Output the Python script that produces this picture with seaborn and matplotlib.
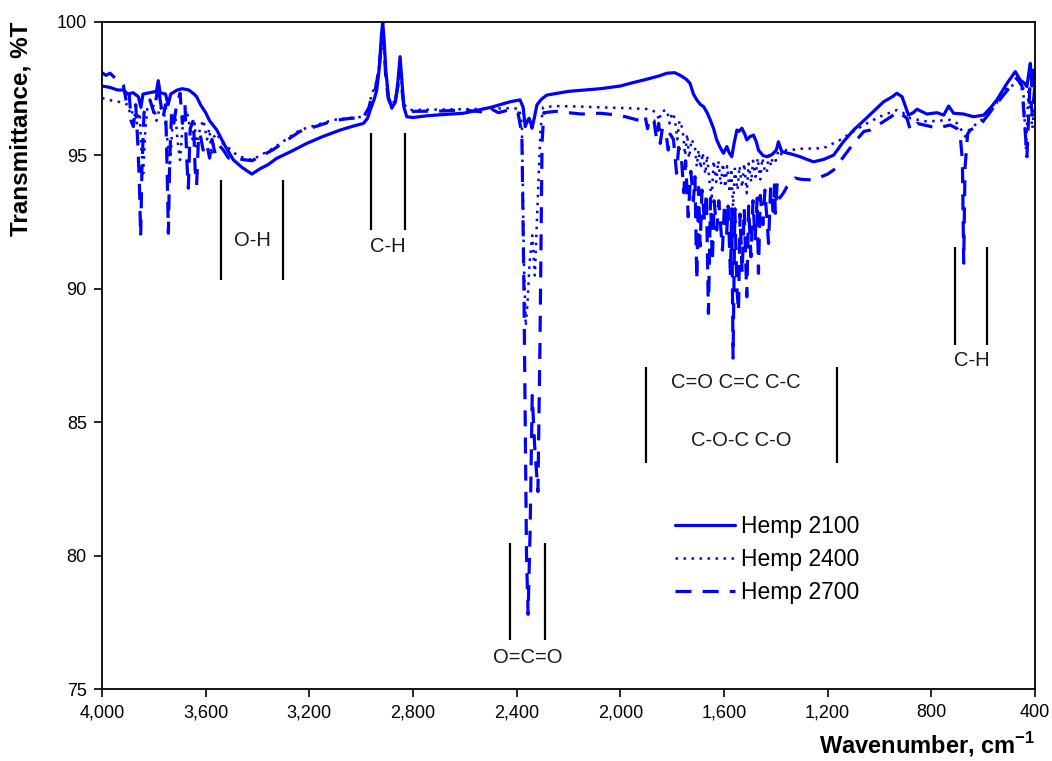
import numpy as np
import pandas as pd
import seaborn as sns
import matplotlib.pyplot as plt

# wavenumber (cm-1) / transmittance (%T)
wn_2100 = [4000, 3970, 3940, 3918, 3900, 3880, 3860, 3850, 3842, 3815, 3790, 3783, 3776, 3755,
           3745, 3735, 3710, 3690, 3665, 3645, 3635, 3620, 3600, 3585, 3557, 3525, 3493, 3460,
           3422, 3390, 3360, 3326, 3270, 3210, 3150, 3081, 3030, 2991, 2975, 2965, 2950, 2940,
           2930, 2922, 2917, 2912, 2905, 2895, 2882, 2868, 2858, 2850, 2843, 2835, 2824, 2800,
           2750, 2700, 2605, 2500, 2425, 2387, 2375, 2367, 2358, 2352, 2345, 2341, 2332, 2322,
           2305, 2284, 2200, 2077, 2000, 1962, 1900, 1850, 1820, 1790, 1769, 1745, 1731, 1718,
           1705, 1690, 1679, 1665, 1653, 1640, 1628, 1615, 1602, 1589, 1580, 1570, 1560, 1550,
           1542, 1531, 1520, 1512, 1500, 1486, 1475, 1467, 1450, 1435, 1420, 1409, 1398, 1390,
           1377, 1340, 1306, 1280, 1254, 1215, 1177, 1140, 1100, 1050, 984, 950, 933, 913, 888,
           870, 855, 817, 778, 752, 733, 714, 675, 637, 598, 570, 547, 508, 476, 457, 440, 431,
           425, 418, 412, 405, 400]
t_2100 = [97.6, 97.55, 97.45, 97.45, 97.3, 97.35, 97.2, 96.8, 97.3, 97.35, 97.4, 97.8, 97.35, 97.3,
          96.9, 97.3, 97.45, 97.5, 97.45, 97.3, 97.2, 96.9, 96.6, 96.3, 95.95, 95.35, 94.83, 94.55,
          94.3, 94.5, 94.65, 94.89, 95.15, 95.45, 95.7, 95.95, 96.1, 96.2, 96.4, 96.7, 97.1, 97.45,
          98.3, 99.5, 100.0, 99.4, 98.2, 97.2, 96.77, 97.0, 97.8, 98.7, 97.8, 96.8, 96.45, 96.42,
          96.48, 96.52, 96.58, 96.8, 97.01, 97.08, 96.8, 96.08, 96.3, 96.39, 96.2, 96.02, 96.4, 96.89,
          97.1, 97.26, 97.4, 97.5, 97.6, 97.7, 97.85, 97.98, 98.08, 98.1, 98.0, 97.85, 97.7, 97.3,
          97.08, 96.9, 96.83, 96.6, 96.33, 96.0, 95.58, 95.3, 95.08, 95.33, 95.1, 94.95, 95.5, 95.95,
          95.9, 96.02, 95.8, 95.58, 95.7, 95.76, 95.5, 95.2, 95.0, 94.95, 95.0, 95.08, 95.2, 95.51,
          95.14, 95.05, 94.95, 94.85, 94.76, 94.85, 95.01, 95.5, 95.95, 96.4, 97.01, 97.2, 97.33, 97.2, 96.51,
          96.6, 96.73, 96.55, 96.6, 96.51, 96.85, 96.58, 96.55, 96.45, 96.51, 96.8, 97.08, 97.7, 98.14, 97.83, 97.7, 97.58,
          98.0, 98.45, 97.6, 98.2, 97.6]

wn_2400 = [4000, 3960, 3931, 3900, 3890, 3879, 3865, 3855, 3848, 3841, 3834, 3825, 3800, 3790,
           3776, 3760, 3750, 3738, 3728, 3718, 3708, 3699, 3690, 3673, 3660, 3650, 3643, 3635,
           3622, 3609, 3595, 3586, 3577, 3568, 3557, 3540, 3519, 3500, 3480, 3450, 3422, 3390,
           3339, 3290, 3236, 3170, 3107, 3050, 2991, 2970, 2960, 2945, 2930, 2922, 2917, 2912,
           2905, 2895, 2882, 2868, 2858, 2850, 2843, 2835, 2811, 2700, 2605, 2500, 2425, 2390,
           2380, 2372, 2365, 2358, 2350, 2340, 2330, 2320, 2308, 2298, 2250, 2150, 2077, 2000,
           1923, 1905, 1880, 1860, 1850, 1842, 1820, 1810, 1800, 1790, 1780, 1772, 1760, 1750,
           1742, 1735, 1725, 1712, 1705, 1698, 1690, 1682, 1672, 1665, 1655, 1647, 1640, 1630,
           1622, 1612, 1604, 1595, 1588, 1578, 1572, 1565, 1558, 1548, 1540, 1530, 1522, 1512,
           1505, 1495, 1488, 1478, 1470, 1460, 1452, 1444, 1435, 1428, 1418, 1410, 1400, 1390,
           1375, 1360, 1344, 1300, 1216, 1152, 1100, 1060, 1000, 933, 910, 881, 817, 727, 700,
           688, 675, 668, 660, 624, 573, 508, 446, 435, 425, 410, 400]
t_2400 = [97.15, 97.05, 97.0, 96.9, 96.5, 96.7, 96.2, 96.6, 95.2, 94.33, 95.8, 96.8, 96.85, 96.3,
          96.83, 96.5, 95.8, 94.58, 96.2, 96.58, 95.5, 94.83, 96.0, 96.7, 96.0, 95.6, 96.2, 95.33,
          96.0, 96.33, 95.6, 96.0, 95.01, 95.7, 95.83, 95.5, 95.33, 95.2, 95.01, 94.9, 94.83, 95.0,
          95.27, 95.6, 95.95, 96.15, 96.33, 96.4, 96.45, 96.8, 97.3, 97.6, 98.4, 99.3, 99.6, 99.2,
          98.0, 97.2, 96.89, 97.1, 97.7, 98.4, 97.6, 96.9, 96.7, 96.72, 96.73, 96.75, 96.77, 96.75,
          96.2, 91.0, 88.6, 89.5, 91.0, 92.0, 90.5, 93.0, 96.0, 96.8, 96.85, 96.83, 96.8, 96.78,
          96.75, 96.75, 96.7, 96.6, 96.3, 96.65, 96.7, 96.2, 96.6, 96.4, 95.6, 96.3, 96.0, 95.0,
          95.8, 94.9, 95.6, 95.3, 94.58, 95.2, 94.5, 95.1, 94.3, 95.0, 93.9, 93.45, 94.8, 94.0,
          94.8, 93.9, 94.7, 93.8, 94.6, 93.6, 94.5, 93.08, 94.5, 93.7, 94.6, 93.8, 94.7, 93.58,
          94.7, 94.0, 94.8, 94.2, 94.9, 94.1, 94.9, 94.5, 94.33, 95.0, 94.6, 95.1, 94.8, 95.2,
          95.0, 95.2, 95.2, 95.25, 95.27, 95.58, 95.9, 96.14, 96.45, 96.7, 96.6, 96.39, 96.27, 96.33, 96.2,
          96.02, 95.8, 95.7, 95.9, 96.2, 96.58, 97.58, 97.7, 95.2, 97.4, 96.0, 97.3]

wn_2700 = [4000, 3985, 3969, 3950, 3930, 3918, 3905, 3895, 3888, 3879, 3870, 3862, 3856, 3851,
           3846, 3838, 3825, 3815, 3800, 3790, 3783, 3776, 3765, 3755, 3749, 3744, 3739, 3732,
           3725, 3712, 3699, 3690, 3680, 3673, 3667, 3660, 3647, 3641, 3635, 3628, 3622, 3610,
           3596, 3585, 3576, 3564, 3550, 3532, 3512, 3493, 3460, 3422, 3390, 3339, 3290, 3236,
           3170, 3107, 3050, 2991, 2970, 2960, 2945, 2930, 2922, 2917, 2912, 2905, 2895, 2882,
           2868, 2858, 2850, 2843, 2835, 2811, 2700, 2605, 2520, 2500, 2470, 2425, 2395, 2380,
           2372, 2362, 2356, 2348, 2340, 2330, 2318, 2310, 2302, 2295, 2250, 2150, 2077, 2000,
           1923, 1905, 1895, 1888, 1870, 1860, 1852, 1846, 1838, 1825, 1815, 1808, 1795, 1783,
           1775, 1765, 1755, 1748, 1738, 1728, 1718, 1712, 1705, 1698, 1692, 1685, 1675, 1668,
           1660, 1652, 1645, 1638, 1628, 1620, 1606, 1598, 1590, 1584, 1575, 1570, 1565, 1558,
           1550, 1544, 1538, 1530, 1522, 1512, 1505, 1496, 1488, 1480, 1472, 1467, 1460, 1450,
           1442, 1428, 1420, 1410, 1405, 1402, 1395, 1385, 1370, 1357, 1326, 1300, 1254, 1200,
           1177, 1150, 1100, 1060, 1035, 984, 926, 894, 881, 855, 810, 778, 727, 700, 688, 680,
           675, 670, 660, 650, 611, 547, 495, 470, 450, 431, 420, 410, 400]
t_2700 = [98.1, 98.0, 98.08, 97.9, 97.8, 97.64, 96.95, 97.3, 96.3, 96.08, 96.9, 95.45, 94.0, 91.95,
          94.5, 96.6, 96.9, 97.08, 96.6, 97.2, 97.7, 97.1, 96.4, 96.9, 94.5, 92.08, 94.8, 96.5,
          96.08, 96.9, 97.33, 96.2, 96.9, 94.83, 93.77, 96.0, 96.33, 94.5, 93.89, 95.6, 95.83, 95.2,
          95.45, 94.9, 95.6, 95.08, 95.4, 95.2, 94.9, 94.95, 94.85, 94.8, 94.95, 95.22, 95.55, 95.9,
          96.1, 96.3, 96.38, 96.42, 96.8, 97.2, 97.5, 98.3, 99.2, 99.5, 99.1, 97.9, 97.1, 96.85,
          97.05, 97.6, 98.3, 97.5, 96.8, 96.65, 96.66, 96.7, 96.62, 96.75, 96.6, 96.72, 96.6, 95.8,
          90.0, 80.0, 77.8, 81.0, 86.0, 84.0, 82.4, 88.0, 95.5, 96.6, 96.65, 96.55, 96.58, 96.5,
          96.3, 96.5, 96.0, 96.4, 96.3, 95.6, 96.2, 95.45, 96.0, 95.9, 95.2, 95.8, 95.6, 94.33,
          95.3, 95.0, 93.6, 94.8, 92.7, 94.4, 93.3, 94.2, 90.33, 93.8, 91.6, 93.7, 92.5, 93.6,
          89.08, 93.4, 91.0, 93.3, 92.2, 93.3, 91.45, 93.2, 92.0, 93.1, 90.5, 93.0, 87.4, 93.0,
          90.0, 89.14, 92.8, 90.6, 93.0, 89.7, 93.1, 91.2, 93.3, 91.8, 93.4, 90.58, 93.5, 92.4,
          93.7, 91.7, 93.8, 92.9, 93.9, 92.83, 93.9, 93.4, 93.6, 93.83, 94.15, 94.1, 94.08, 94.3,
          94.45, 94.8, 95.45, 95.9, 95.95, 96.27, 96.64, 96.39, 95.95, 96.2, 96.1, 96.02, 96.14, 96.0, 95.7, 94.8,
          90.96, 94.5, 95.8, 95.95, 96.14, 96.95, 97.58, 97.9, 97.6, 94.95, 97.5, 96.5, 97.7]

series_names = ['Hemp 2100', 'Hemp 2400', 'Hemp 2700']

# band assignments: (label, left wn, right wn, bottom %T, top %T, label wn, label %T, valign)
bands = [('O-H', 3541, 3301, 90.33, 94.08, 3421, 91.8, 'center'),
         ('C-H', 2962, 2831, 92.2, 95.84, 2896, 91.95, 'top'),
         ('O=C=O', 2425, 2290, 76.84, 80.47, 2357, 76.55, 'top'),
         ('', 1901, 1163, 83.47, 87.07, 0, 0, ''),
         ('C-H', 707, 584, 87.9, 91.57, 645, 87.65, 'top')]
extra_labels = [('C=O C=C C-C', 1555, 86.47), ('C-O-C C-O', 1532, 84.33)]

sns.set_theme(style='ticks')
plt.rcParams['font.family'] = ['Liberation Sans', 'DejaVu Sans']
plt.rcParams['mathtext.fontset'] = 'custom'
plt.rcParams['mathtext.rm'] = 'Liberation Sans'
plt.rcParams['mathtext.bf'] = 'Liberation Sans:bold'
plt.rcParams['text.color'] = 'black'
plt.rcParams['axes.labelcolor'] = 'black'

fig = plt.figure(figsize=(10.52, 7.61), dpi=100)
ax = fig.add_axes([0.097, 0.0946, 0.8868, 0.8765])

blue = '#0000ff'
df1 = pd.DataFrame({'wn': wn_2100, 't': t_2100})
df2 = pd.DataFrame({'wn': wn_2400, 't': t_2400})
df3 = pd.DataFrame({'wn': wn_2700, 't': t_2700})
sns.lineplot(data=df1, x='wn', y='t', ax=ax, color=blue, lw=2.3, sort=False,
             estimator=None, label=series_names[0])
sns.lineplot(data=df2, x='wn', y='t', ax=ax, color=blue, lw=1.8, sort=False,
             estimator=None, label=series_names[1], linestyle=(0, (1, 2.2)))
sns.lineplot(data=df3, x='wn', y='t', ax=ax, color=blue, lw=2.3, sort=False,
             estimator=None, label=series_names[2], linestyle=(0, (5, 3.5)))

txt_color = '#1a1a1a'
for name, x0, x1, y0, y1, tx, ty, va in bands:
    ax.vlines([x0, x1], y0, y1, color='black', lw=1.6)
    if name:
        ax.text(tx, ty, name, ha='center', va=va, fontsize=14.5, color=txt_color)
for name, tx, ty in extra_labels:
    ax.text(tx, ty, name, ha='center', va='center', fontsize=14.5, color=txt_color)

ax.set_xlim(4000, 400)
ax.set_ylim(75, 100)
xt = np.arange(4000, 399, -400)
ax.set_xticks(xt)
ax.set_xticklabels([f'{v:,}' for v in xt])
ax.set_yticks(np.arange(75, 101, 5))
ax.tick_params(direction='out', length=6, width=1.2, colors='black')
ax.tick_params(axis='x', pad=5, labelsize=13)
ax.tick_params(axis='y', pad=5, labelsize=13)
for s in ax.spines.values():
    s.set_linewidth(1.3)
    s.set_color('black')

ax.set_ylabel('Transmittance, %T', fontsize=17.5, fontweight='bold', loc='top')
ax.yaxis.set_label_coords(-0.075, 1.0)
ax.set_xlabel(r'Wavenumber, cm$^{\mathbf{-1}}$', fontsize=17, fontweight='bold', loc='right',
              labelpad=6)

ax.legend(loc='upper left', bbox_to_anchor=(0.592, 0.292), frameon=False, fontsize=16.5,
          handlelength=2.6, handletextpad=0.3, labelspacing=0.45)

fig.savefig('out.png', dpi=100)
